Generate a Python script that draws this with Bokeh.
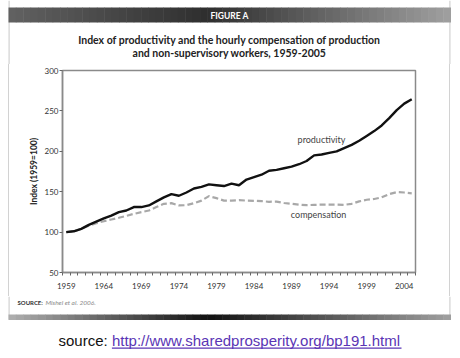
from bokeh.plotting import figure
from bokeh.models import Label, FixedTicker, Range1d, ColumnDataSource
from bokeh.layouts import column
from bokeh.core.properties import value
from bokeh.embed import file_html
from bokeh.resources import INLINE

years = [1959, 1960, 1961, 1962, 1963, 1964, 1965, 1966, 1967, 1968,
         1969, 1970, 1971, 1972, 1973, 1974, 1975, 1976, 1977, 1978,
         1979, 1980, 1981, 1982, 1983, 1984, 1985, 1986, 1987, 1988,
         1989, 1990, 1991, 1992, 1993, 1994, 1995, 1996, 1997, 1998,
         1999, 2000, 2001, 2002, 2003, 2004, 2005]
productivity = [100, 101, 104, 109, 113, 117, 120.5, 124.7, 126.7, 131,
                131, 133, 138, 143, 147, 145, 149, 154, 156, 159,
                158, 157, 160, 158, 165, 168, 171, 176, 177, 179,
                181, 184, 188, 195, 196, 198, 200, 204, 208, 213,
                219, 225, 232, 241, 251, 259, 264.5]
compensation = [100, 101, 104, 108, 111, 113.5, 115.6, 117.7, 120, 122.6,
                124.7, 126.7, 131, 135, 135.8, 133, 133.3, 135.8, 139, 144.5,
                142, 139, 139, 139.5, 139, 138.7, 138.3, 137.5, 137.8, 136,
                135, 134, 133.3, 133.7, 134, 134, 134, 133.7, 135, 138,
                140, 141, 143, 147, 149.5, 149, 148]
y_ticks = [50, 100, 150, 200, 250, 300]
x_tick_years = [1959, 1964, 1969, 1974, 1979, 1984, 1989, 1994, 1999, 2004]

W = 460
TOP_H, MAIN_H, BOT_H = 64, 232, 62
CARD_L, CARD_R = 8, 450


def hexmix(c1, c2, t):
    a = [int(c1[i:i + 2], 16) for i in (1, 3, 5)]
    b = [int(c2[i:i + 2], 16) for i in (1, 3, 5)]
    return "#" + "".join("%02x" % int(round(a[k] + (b[k] - a[k]) * t)) for k in range(3))


def grad_colors(stops, n):
    cols = []
    for i in range(n):
        t = (i + 0.5) / n
        for j in range(len(stops) - 1):
            if stops[j][0] <= t <= stops[j + 1][0]:
                tt = (t - stops[j][0]) / (stops[j + 1][0] - stops[j][0])
                cols.append(hexmix(stops[j][1], stops[j + 1][1], tt))
                break
    return cols


def gradient_bar(fig, x0, x1, y0, y1, stops, n=60):
    step = (x1 - x0) / n
    lefts = [x0 + i * step for i in range(n)]
    rights = [l + step + 0.5 for l in lefts]
    fig.quad(left=lefts, right=rights, top=[y0] * n, bottom=[y1] * n,
             fill_color=grad_colors(stops, n), line_color=None)


def deco_figure(h, y_top):
    f = figure(width=W, height=h, output_backend="svg", toolbar_location=None,
               title=None, x_range=Range1d(0, W), y_range=Range1d(y_top + h, y_top),
               x_axis_location=None, y_axis_location=None, min_border=0,
               min_border_left=0, min_border_right=0, min_border_top=0,
               min_border_bottom=0, frame_align=False)
    f.outline_line_color = None
    f.xgrid.visible = False
    f.ygrid.visible = False
    f.background_fill_color = "white"
    f.border_fill_color = "white"
    # card side borders
    f.quad(left=[CARD_L, CARD_R - 1.2], right=[CARD_L + 1.2, CARD_R],
           top=[y_top, y_top], bottom=[min(y_top + h, 319)] * 2,
           fill_color="#d2d2d2", line_color=None)
    return f


# ---------- top: header bar + title ----------
top = deco_figure(TOP_H, 0)
gradient_bar(top, CARD_L, CARD_R, 7, 22,
             [(0.0, "#626262"), (0.45, "#2e2e2e"), (1.0, "#a0a0a0")])
top.text(x=[229], y=[15], text=["FIGURE A"], text_font=value("Lato"),
         text_font_style="bold", text_font_size="8.5px", text_color="white",
         text_align="center", text_baseline="middle")
top.text(x=[229, 229], y=[39, 52],
         text=["Index of productivity and the hourly compensation of production",
               "and non-supervisory workers, 1959-2005"],
         text_font=value("Lato"), text_font_style="bold", text_font_size="10.5px",
         text_color="#222222", text_align="center", text_baseline="middle")

# ---------- main chart ----------
p = figure(width=W, height=MAIN_H, output_backend="svg", toolbar_location=None,
           title=None, x_range=Range1d(1958.5, 2005.5), y_range=Range1d(50, 300),
           min_border_left=62, min_border_right=W - 415, min_border_top=6,
           min_border_bottom=24, frame_align=False)
p.background_fill_color = "white"
p.border_fill_color = "white"
p.border_fill_alpha = 0
p.styles = {"background": "linear-gradient(to right, white 8px, #d2d2d2 8px, "
                          "#d2d2d2 9px, white 9px, white 449px, #d2d2d2 449px, "
                          "#d2d2d2 450px, white 450px)"}
p.xgrid.visible = False
p.ygrid.visible = False
p.outline_line_color = "#8a8a8a"
p.outline_line_width = 1.5

src = ColumnDataSource(dict(x=years, prod=productivity, comp=compensation))
p.line("x", "comp", source=src, line_color="#a8a8a8", line_width=2.2,
       line_dash="6 3")
p.line("x", "prod", source=src, line_color="#111111", line_width=2.4)

ax = p.xaxis[0]
ax.ticker = FixedTicker(ticks=x_tick_years,
                        minor_ticks=[y - 0.5 for y in years] + [years[-1] + 0.5])
ax.major_tick_line_color = None
ax.major_tick_out = 3
ax.major_tick_in = 0
ax.minor_tick_line_color = "#666666"
ax.minor_tick_out = 3
ax.minor_tick_in = 0
ax.minor_tick_line_width = 1
ax.axis_line_color = "#8a8a8a"
ax.axis_line_width = 1.5
ax.major_label_standoff = 7
ax.major_label_text_font = "Lato"
ax.major_label_text_font_size = "8px"
ax.major_label_text_color = "#333333"

ay = p.yaxis[0]
ay.ticker = FixedTicker(ticks=y_ticks)
ay.minor_tick_line_color = None
ay.major_tick_out = 3
ay.major_tick_in = 0
ay.major_tick_line_color = "#666666"
ay.axis_line_color = "#8a8a8a"
ay.axis_line_width = 1.5
ay.major_label_standoff = 1
ay.major_label_text_font = "Lato"
ay.major_label_text_font_size = "8px"
ay.major_label_text_color = "#333333"
ay.axis_label = "Index (1959=100)"
ay.axis_label_text_font = "Lato"
ay.axis_label_text_font_style = "bold"
ay.axis_label_text_font_size = "8.5px"
ay.axis_label_text_color = "#222222"
ay.axis_label_standoff = 3

p.add_layout(Label(x=1989.8, y=214.6, text="productivity", text_font="Lato",
                   text_font_size="9px", text_color="#444444",
                   text_baseline="middle", text_align="left"))
p.add_layout(Label(x=1988.9, y=121.8, text="compensation", text_font="Lato",
                   text_font_size="9px", text_color="#444444",
                   text_baseline="middle", text_align="left"))

# ---------- bottom: source note, bottom bar, link ----------
y0 = TOP_H + MAIN_H
bot = deco_figure(BOT_H, y0)
bot.text(x=[17], y=[302], text=["SOURCE:"], text_font=value("Lato"),
         text_font_style="bold", text_font_size="6px", text_color="#333333",
         text_align="left", text_baseline="middle")
bot.text(x=[45], y=[302], text=["Mishel et al. 2006."], text_font=value("Lato"),
         text_font_style="italic", text_font_size="6.5px", text_color="#8a8a8a",
         text_align="left", text_baseline="middle")
gradient_bar(bot, CARD_L, CARD_R, 314, 319.5,
             [(0.0, "#b0b0b0"), (0.45, "#111111"), (1.0, "#a0a0a0")])
bot.text(x=[58], y=[339.5], text=["source:"], text_font=value("Liberation Sans"),
         text_font_size="15px", text_color="#111111", text_align="left",
         text_baseline="middle")
bot.text(x=[111.4], y=[339.5], text=["http://www.sharedprosperity.org/bp191.html"],
         text_font=value("Liberation Sans"), text_font_size="15px",
         text_color="#5a35b5", text_align="left", text_baseline="middle")
bot.quad(left=[111.4], right=[401], top=[347], bottom=[348.2],
         fill_color="#5a35b5", line_color=None)

layout = column(top, p, bot, spacing=0)
open("out.html", "w").write(file_html(layout, INLINE))
